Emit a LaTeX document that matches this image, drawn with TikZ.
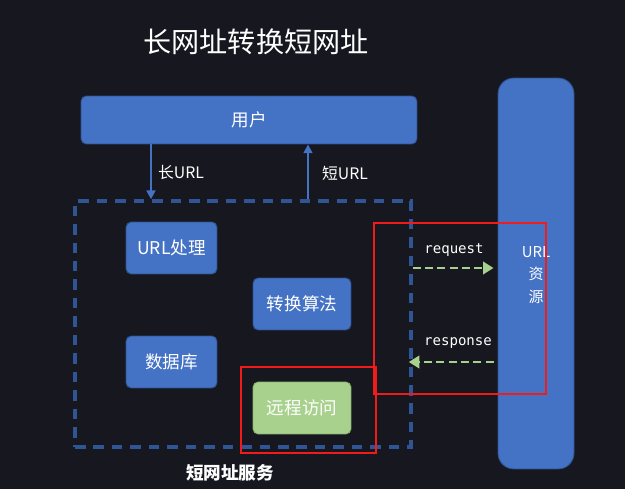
\documentclass[tikz,border=0pt]{standalone}
\usepackage{fontspec}
\setmainfont{Noto Sans CJK SC}
\newfontfamily\codefont{DejaVu Sans Mono}
\usepackage{tikz}
\usetikzlibrary{arrows.meta,positioning}
\definecolor{bgdark}{HTML}{16171F}
\definecolor{boxblue}{HTML}{4472C4}
\definecolor{boxedge}{HTML}{2F528F}
\definecolor{dashblue}{HTML}{2F5597}
\definecolor{remotegreen}{HTML}{A9D18E}
\definecolor{remoteedge}{HTML}{8CB56F}
\definecolor{markred}{HTML}{F21B1B}
\tikzset{
  blk/.style={draw=boxedge, fill=boxblue, line width=0.5pt, rounded corners=3pt,
    text=white, font=\fontsize{10}{12}\selectfont, inner sep=0pt},
  smallblk/.style={blk, minimum height=1.04cm},
  remote/.style={smallblk, draw=remoteedge, fill=remotegreen},
  svcframe/.style={draw=dashblue, line width=2pt, dash pattern=on 6pt off 4.5pt,
    minimum width=6.72cm, minimum height=4.92cm, inner sep=0pt},
  userArrow/.style={-{Triangle[length=5pt,width=5pt]}, draw=boxblue, line width=1.4pt},
  httpArrow/.style={-{Triangle[length=6pt,width=7pt]}, draw=remotegreen, line width=1.6pt,
    dash pattern=on 4.5pt off 2.5pt},
  lbl/.style={text=white, font=\fontsize{9}{11}\selectfont, inner sep=0pt},
  codelbl/.style={text=white, font=\codefont\fontsize{8}{9}\selectfont, inner sep=0pt},
  redmark/.style={draw=markred, line width=1.2pt}
}
\begin{document}
\begin{tikzpicture}[x=0.02cm, y=-0.02cm]
  \fill[bgdark] (0,0) rectangle (625,489);
  \useasboundingbox (0,0) rectangle (625,489);
  % title
  \node[text=white, font=\fontsize{16}{19}\selectfont] (title) at (256,42) {长网址转换短网址};
  % user and resource
  \node[blk, minimum width=6.72cm, minimum height=0.96cm] (user) at (249,120) {用户};
  \node[blk, rounded corners=9pt, minimum width=1.52cm, minimum height=7.82cm] (res) at (536,273.5) {};
  \node[lbl, font=\fontsize{8.5}{13}\selectfont, align=center] (reslbl) at (536,275) {URL\\资\\源};
  % short url service
  \node[svcframe] (svc) at (243,324) {};
  \node[smallblk, minimum width=1.82cm] (parse) at (171.5,248) {URL处理};
  \node[smallblk, minimum width=1.96cm] (algo) at (302,304) {转换算法};
  \node[smallblk, minimum width=1.82cm] (db) at (171.5,362) {数据库};
  \node[remote, minimum width=1.96cm] (fetch) at (302,408) {远程访问};
  \node[text=white, font=\bfseries\fontsize{10}{12}\selectfont] (svclbl) at (230,473) {短网址服务};
  % user <-> service
  \coordinate (lx) at (151,0);
  \coordinate (sx) at (308,0);
  \draw[userArrow] (user.south -| lx) -- (svc.north -| lx);
  \draw[userArrow] (svc.north -| sx) -- (user.south -| sx);
  \node[lbl] (long) at (181,172) {长URL};
  \node[lbl] (short) at (345,173) {短URL};
  % service <-> resource
  \coordinate (qy) at (0,268);
  \coordinate (ry) at (0,362);
  \draw[httpArrow] (svc.east |- qy) -- ([xshift=-0.08cm]res.west |- qy);
  \draw[httpArrow] ([xshift=-0.08cm]res.west |- ry) -- ([xshift=-0.08cm]svc.east |- ry);
  \node[codelbl] (req) at (454,250) {request};
  \node[codelbl] (resp) at (458,343) {response};
  % red marks
  \draw[redmark] (374,223) rectangle (546,394);
  \draw[redmark] (241,367) rectangle (376,453);
\end{tikzpicture}
\end{document}
